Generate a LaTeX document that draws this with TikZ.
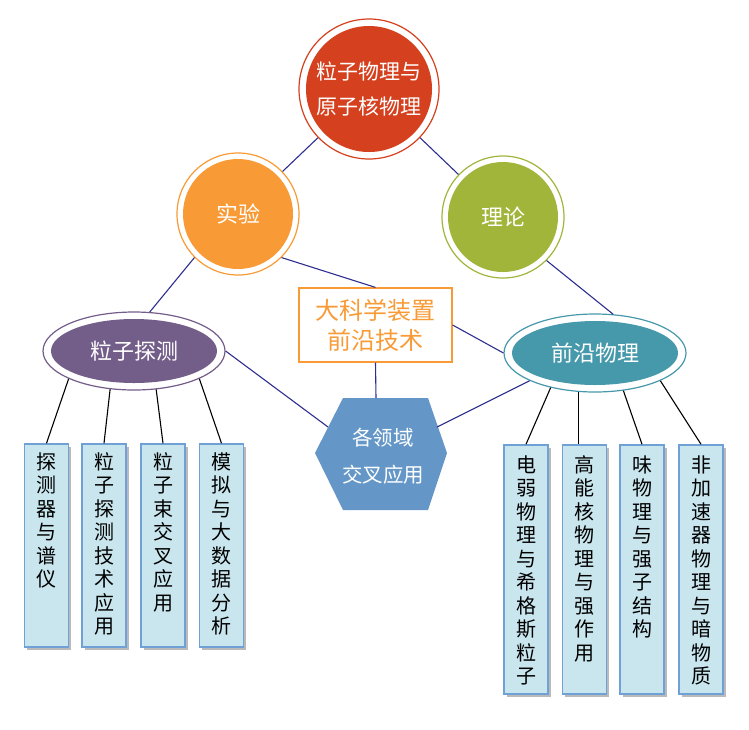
\documentclass[tikz,border=0pt]{standalone}
\usepackage{fontspec}
\setmainfont{Noto Sans CJK SC}
\usetikzlibrary{shapes.geometric,shadows}
\definecolor{cRed}{HTML}{D5401E}
\definecolor{cOrange}{HTML}{F89B36}
\definecolor{cGreen}{HTML}{A1B53B}
\definecolor{cPurple}{HTML}{735D89}
\definecolor{cTeal}{HTML}{4698AB}
\definecolor{cHex}{HTML}{6497C7}
\definecolor{cBoxFill}{HTML}{C9E6EE}
\definecolor{cBoxLine}{HTML}{6FA0D6}
\definecolor{cNavy}{HTML}{2D2E8E}
\begin{document}
\begin{tikzpicture}[x=1pt,y=-1pt,
  ring/.style n args={3}{circle, draw=#1, line width=1.2pt, fill=white,
    minimum size=#2, inner sep=0pt, text=white,
    path picture={\fill[#1] (path picture bounding box.center) circle[radius=#3];}},
  ering/.style={ellipse, draw=#1, line width=1.2pt, fill=white,
    minimum width=182pt, minimum height=78pt, inner sep=0pt, text=white,
    font=\fontsize{22}{26}\selectfont,
    path picture={\fill[#1] (path picture bounding box.center) ellipse[x radius=83pt, y radius=32pt];}},
  link/.style={draw=cNavy, line width=1.1pt},
  leg/.style={draw=black, line width=1.1pt},
  vbox/.style={rectangle, draw=cBoxLine, line width=1.5pt, fill=cBoxFill,
    minimum width=44pt, inner sep=0pt,
    drop shadow={shadow xshift=2.5pt, shadow yshift=-2.5pt, opacity=0.45, fill=black!60}},
  vtxt/.style={align=center, font=\fontsize{20}{23.5}\selectfont, inner sep=0pt, text=black, anchor=north}
]
\useasboundingbox (0,0) rectangle (749,729);

% main nodes
\node[ring={cRed}{140pt}{63pt}, align=center, font=\fontsize{21}{35}\selectfont] (top) at (369,89) {粒子物理与\\原子核物理};
\node[ring={cOrange}{122pt}{55pt}, font=\fontsize{22}{26}\selectfont] (exp) at (238,214) {实验};
\node[ring={cGreen}{122pt}{55pt}, font=\fontsize{22}{26}\selectfont] (thy) at (503,217) {理论};
\node[ering=cPurple] (pd) at (134,351) {粒子探测};
\node[ering=cTeal] (fp) at (595,353) {前沿物理};
\node[draw=cOrange, line width=1.2pt, fill=white, text=cOrange, minimum width=153pt, minimum height=74pt,
  inner sep=0pt, align=center, font=\fontsize{24}{30}\selectfont] (big) at (375.5,325) {大科学装置\\前沿技术};

% hexagon
\fill[cHex] (343,398) -- (428,398) -- (447,453) -- (428,510) -- (343,510) -- (315,453) -- cycle;
\node[text=white, align=center, font=\fontsize{20.5}{37}\selectfont, inner sep=0pt] (hex) at (383,456) {各领域\\交叉应用};
\coordinate (hexT) at (376,398);
\coordinate (hexL) at (328,427);
\coordinate (hexR) at (437,427);

% navy connectors
\draw[link] (top) -- (exp);
\draw[link] (top) -- (thy);
\draw[link] (exp.225) -- (pd.68);
\draw[link] (thy.-45) -- (fp.65);
\draw[link] (exp.-45) -- (big.north);
\draw[link] (big.east) -- (fp.west);
\draw[link] (big.south) -- (hexT);
\draw[link] (pd.east) -- (hexL);
\draw[link] (fp.203) -- (hexR);

% left boxes
\node[vbox, minimum height=203pt] (b1) at (46.5,545.5) {};
\node[vbox, minimum height=203pt] (b2) at (104,545.5) {};
\node[vbox, minimum height=203pt] (b3) at (163,545.5) {};
\node[vbox, minimum height=203pt] (b4) at (221.5,545.5) {};
\node[vtxt] at ([yshift=-9pt]b1.north) {探\\测\\器\\与\\谱\\仪};
\node[vtxt] at ([yshift=-9pt]b2.north) {粒\\子\\探\\测\\技\\术\\应\\用};
\node[vtxt] at ([yshift=-9pt]b3.north) {粒\\子\\束\\交\\叉\\应\\用};
\node[vtxt] at ([yshift=-9pt]b4.north) {模\\拟\\与\\大\\数\\据\\分\\析};

% right boxes
\node[vbox, minimum height=249pt] (b5) at (526,569.5) {};
\node[vbox, minimum height=249pt] (b6) at (584.5,569.5) {};
\node[vbox, minimum height=249pt] (b7) at (642,569.5) {};
\node[vbox, minimum height=249pt] (b8) at (701,569.5) {};
\node[vtxt] at ([yshift=-11pt]b5.north) {电\\弱\\物\\理\\与\\希\\格\\斯\\粒\\子};
\node[vtxt] at ([yshift=-11pt]b6.north) {高\\能\\核\\物\\理\\与\\强\\作\\用};
\node[vtxt] at ([yshift=-11pt]b7.north) {味\\物\\理\\与\\强\\子\\结\\构};
\node[vtxt] at ([yshift=-11pt]b8.north) {非\\加\\速\\器\\物\\理\\与\\暗\\物\\质};

% black legs
\draw[leg] (pd.203) -- (b1.north);
\draw[leg] (pd.238) -- (b2.north);
\draw[leg] (pd.300) -- (b3.north);
\draw[leg] (pd.337) -- (b4.north);
\draw[leg] (fp.218) -- (b5.north);
\draw[leg] (fp.247) -- (fp.247 |- b6.north);
\draw[leg] (fp.307) -- (b7.north);
\draw[leg] (fp.337) -- (b8.north);
\end{tikzpicture}
\end{document}
